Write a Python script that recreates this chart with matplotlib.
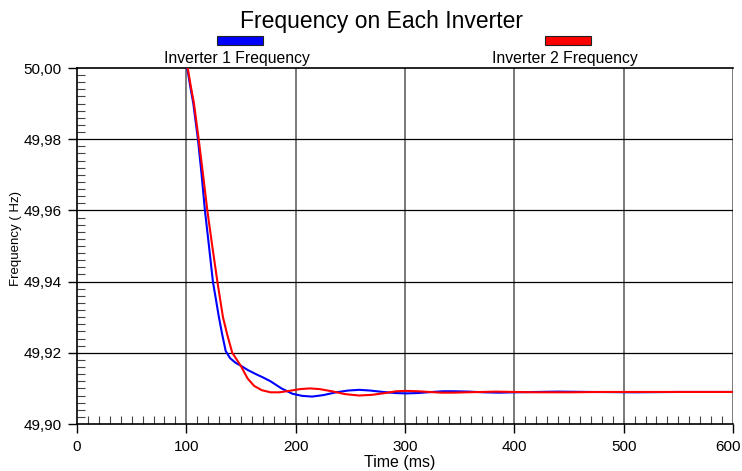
import matplotlib.pyplot as plt
from matplotlib.patches import Rectangle
from matplotlib.ticker import MultipleLocator, FuncFormatter

plt.rcParams['font.family'] = ['Liberation Sans', 'DejaVu Sans']

# values
t_inv1 = [100.8, 103.5, 106.4, 110.6, 114, 117, 120.7, 124.3, 129.8, 132.9, 136, 140,
          145, 149.7, 156, 163, 170, 177, 187, 197, 206, 215, 225, 237, 248, 258,
          268, 280, 291, 301, 312, 325, 335, 345, 358, 372, 386, 400, 420, 440,
          470, 510, 550, 600]
f_inv1 = [50.000, 49.995, 49.990, 49.980, 49.970, 49.960, 49.950, 49.940, 49.930,
          49.925, 49.9205, 49.9185, 49.9172, 49.9164, 49.9152, 49.9141, 49.9131,
          49.9120, 49.9100, 49.9085, 49.9079, 49.9077, 49.9081, 49.9089, 49.9094,
          49.9096, 49.9094, 49.9090, 49.9087, 49.9086, 49.9087, 49.9090, 49.9092,
          49.9092, 49.9091, 49.9089, 49.9088, 49.9089, 49.9090, 49.9091, 49.9090,
          49.9089, 49.9090, 49.9090]

t_inv2 = [101.3, 104, 107, 111.3, 115.3, 119.2, 123.7, 128.4, 133.5, 137.5, 142,
          149.7, 156, 162, 169, 177, 185, 194, 204, 213, 222, 233, 245, 258, 270,
          282, 292, 301, 312, 322, 333, 344, 356, 370, 383, 400, 420, 450, 480,
          520, 560, 600]
f_inv2 = [50.000, 49.995, 49.990, 49.980, 49.970, 49.960, 49.950, 49.940, 49.930,
          49.925, 49.920, 49.9164, 49.9128, 49.9107, 49.9095, 49.9089, 49.9089,
          49.9093, 49.9098, 49.9100, 49.9098, 49.9092, 49.9084, 49.9080, 49.9082,
          49.9087, 49.9092, 49.9093, 49.9092, 49.9090, 49.9088, 49.9088, 49.9089,
          49.9090, 49.9091, 49.9090, 49.9089, 49.9089, 49.9090, 49.9090, 49.9090,
          49.9090]

labels = ["Inverter 1 Frequency", "Inverter 2 Frequency"]
colors = ["#0000ff", "#ff0000"]
x_max = 600

W, H = 742, 471
fig = plt.figure(figsize=(W / 100, H / 100), dpi=100)
ax = fig.add_axes([77 / W, 1 - 424 / H, 656 / W, 356 / H])

ax.plot(t_inv1, f_inv1, color=colors[0], lw=1.5, zorder=3)
ax.plot(t_inv2, f_inv2, color=colors[1], lw=1.5, zorder=4)

ax.set_xlim(0, x_max)
ax.set_ylim(49.90, 50.00)

ax.xaxis.set_major_locator(MultipleLocator(100))
ax.xaxis.set_minor_locator(MultipleLocator(10))
ax.yaxis.set_major_locator(MultipleLocator(0.02))
ax.yaxis.set_minor_locator(MultipleLocator(0.002))
ax.yaxis.set_major_formatter(FuncFormatter(lambda v, p: f"{v:.2f}".replace(".", ",")))
# last x label is drawn separately, nudged left so it stays inside the figure
ax.xaxis.set_major_formatter(FuncFormatter(lambda v, p: "" if v >= x_max else f"{v:.0f}"))

ax.tick_params(which='major', direction='out', length=6.5, width=1, labelsize=11,
               color='black')
ax.tick_params(axis='x', which='major', pad=5)
ax.tick_params(axis='y', which='major', pad=4.5)
ax.tick_params(which='minor', direction='in', length=6, width=0.8, color='#444444')

ax.annotate(f"{x_max}", xy=(x_max, 0), xycoords=('data', 'axes fraction'),
            xytext=(-5, -16), textcoords='offset pixels', ha='center', va='top',
            fontsize=11)

for x in [100, 200, 300, 400, 500, 600]:
    ax.axvline(x, color='#555555', lw=1.1, zorder=1)
for y in [49.92, 49.94, 49.96, 49.98]:
    ax.axhline(y, color='black', lw=0.9, zorder=1)

for side in ['left', 'bottom', 'top']:
    ax.spines[side].set_linewidth(1.2)
ax.spines['right'].set_visible(False)

fig.text(400 / W, 1 - 467 / H, "Time (ms)", fontsize=11.5, ha='center', va='baseline')
fig.text(16 / W, 1 - 238 / H, "Frequency ( Hz)", fontsize=9.5, rotation=90,
         ha='center', va='center')

fig.text(381.5 / W, 1 - 27.7 / H, "Frequency on Each Inverter", fontsize=16.5,
         ha='center', va='baseline')

for cx, tx, lab, col in zip([240, 568], [236.5, 564.5], labels, colors):
    fig.patches.append(Rectangle(((cx - 23) / W, 1 - 45 / H), 46 / W, 9 / H,
                                 transform=fig.transFigure, facecolor=col,
                                 edgecolor='#222222', lw=0.8))
    fig.text(tx / W, 1 - 63.3 / H, lab, fontsize=11.3, ha='center', va='baseline')

fig.savefig("out.png", dpi=100)
